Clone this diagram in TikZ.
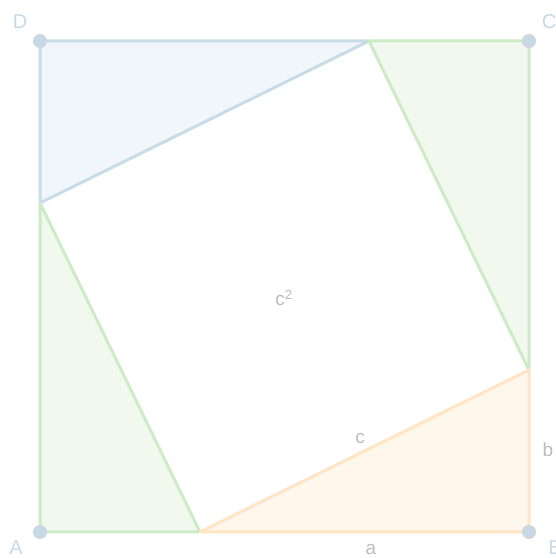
\documentclass[tikz,border=0pt]{standalone}
\usepackage{fontspec}
\setmainfont{Liberation Sans}
\definecolor{bfill}{HTML}{F0F6FA}
\definecolor{bline}{HTML}{C8DCE8}
\definecolor{gfill}{HTML}{F1F9EF}
\definecolor{gline}{HTML}{CDEBC6}
\definecolor{ofill}{HTML}{FFF6EC}
\definecolor{oline}{HTML}{FFE5C4}
\definecolor{dotfill}{HTML}{C6D9E7}
\definecolor{dotline}{HTML}{D2D4DC}
\definecolor{lblgray}{HTML}{BBBBBB}
\definecolor{lblblue}{HTML}{C6D9E7}
\tikzset{
  tri/.style={line width=3pt, line join=round},
  vdot/.style={circle, fill=dotfill, draw=dotline, line width=1pt, minimum size=13pt, inner sep=0pt},
  vlabel/.style={text=lblblue, font=\fontsize{20}{20}\selectfont, inner sep=0pt},
  slabel/.style={text=lblgray, font=\fontsize{19}{19}\selectfont, inner sep=0pt}
}
\begin{document}
\begin{tikzpicture}[x=1pt,y=1pt]
\useasboundingbox (0,0) rectangle (556,558);
\coordinate (A) at (40,26);
\coordinate (B) at (529,26);
\coordinate (C) at (529,517);
\coordinate (D) at (40,517);
\coordinate (P1) at (200,26);
\coordinate (P2) at (529,188);
\coordinate (P3) at (369,517);
\coordinate (P4) at (40,355);
\filldraw[tri, fill=bfill, draw=bline] (D) -- (P3) -- (P4) -- cycle;
\filldraw[tri, fill=gfill, draw=gline] (P3) -- (C) -- (P2) -- cycle;
\filldraw[tri, fill=gfill, draw=gline] (A) -- (P1) -- (P4) -- cycle;
\filldraw[tri, fill=ofill, draw=oline] (P1) -- (B) -- (P2) -- cycle;
\node[vdot] (dA) at (A) {};
\node[vdot] (dB) at (B) {};
\node[vdot] (dC) at (C) {};
\node[vdot] (dD) at (D) {};
\node[vlabel] (lD) at (20,536) {D};
\node[vlabel] (lC) at (549,536) {C};
\node[vlabel] (lA) at (16,10) {A};
\node[vlabel] (lB) at (555,10) {B};
\node[slabel] (la) at (371,9) {a};
\node[slabel] (lb) at (548,108) {b};
\node[slabel] (lc) at (360,120) {c};
\node[slabel] (lc2) at (284,260) {c\textsuperscript{2}};
\end{tikzpicture}
\end{document}
